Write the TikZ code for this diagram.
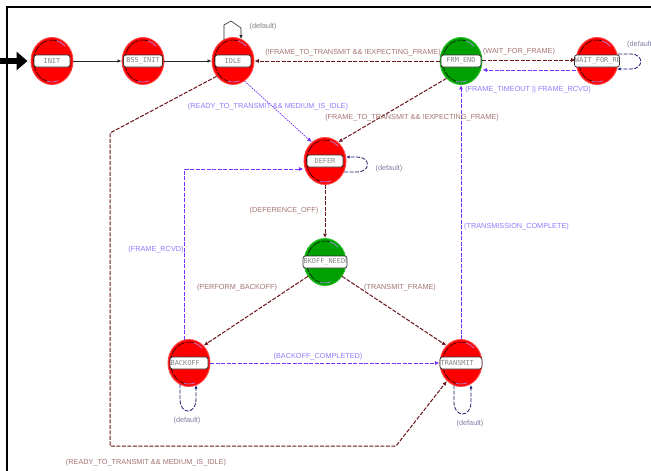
\documentclass[tikz,border=0pt]{standalone}
\usepackage{fontspec}
\setmainfont{Liberation Sans}
\newfontfamily\statefont{DejaVu Sans Mono}
\usetikzlibrary{shapes.geometric,arrows.meta,calc}
\definecolor{brn}{RGB}{105,20,25}
\definecolor{brnlbl}{RGB}{165,115,115}
\definecolor{pur}{RGB}{115,50,255}
\definecolor{purlbl}{RGB}{150,120,255}
\definecolor{nvy}{RGB}{30,30,110}
\definecolor{deflbl}{RGB}{125,125,165}
\definecolor{lav}{RGB}{170,150,255}
\definecolor{stred}{RGB}{255,0,0}
\definecolor{stredb}{RGB}{255,70,70}
\definecolor{stgrn}{RGB}{0,160,0}
\definecolor{stgrnb}{RGB}{40,190,40}
\definecolor{boxtxt}{RGB}{135,135,135}
\newcommand\drawstate[6]{%
  \node[#3] (#1) at (#2) {};
  \draw[innerring] ($(#1.center)+(75:18.5pt and 21pt)$) arc[start angle=75, end angle=265, x radius=18.5pt, y radius=21pt];
  \draw[lavring] ($(#1.center)+(255:18.5pt and 21pt)$) arc[start angle=255, end angle=290, x radius=18.5pt, y radius=21pt];
  \draw[lavring] ($(#1.center)+(45:18.5pt and 21pt)$) arc[start angle=45, end angle=75, x radius=18.5pt, y radius=21pt];
  \node[lblbox, minimum width=#5pt] (#1L) at (#1.center) {};
  \begin{scope}
    \clip ([xshift=0.8pt]#1L.south west) rectangle ([xshift=-0.8pt]#1L.north east);
    \node[stext, anchor=#6] (#1T) at (#1L.#6) {#4};
  \end{scope}
}
\begin{document}
\begin{tikzpicture}[x=1pt,y=-1pt,
  redstate/.style={ellipse, minimum width=42pt, minimum height=47pt, inner sep=0pt, fill=stred, draw=stredb, line width=0.9pt},
  grnstate/.style={ellipse, minimum width=42pt, minimum height=47pt, inner sep=0pt, fill=stgrn, draw=stgrnb, line width=0.9pt},
  innerring/.style={draw=black, line width=0.5pt, dash pattern=on 8pt off 1.5pt},
  lavring/.style={draw=lav, line width=0.6pt},
  lblbox/.style={rectangle, rounded corners=2.5pt, fill=white, draw=black!80, line width=0.7pt, minimum height=12pt, inner sep=0pt},
  stext/.style={text=boxtxt, font=\statefont\fontsize{6.9}{7}\selectfont, inner sep=0.8pt},
  elbl/.style={font=\fontsize{7.3}{8}\selectfont, inner sep=0pt},
  bedge/.style={draw=brn, line width=1pt, dash pattern=on 4pt off 1.5pt, -{Latex[length=4.5pt,width=4pt]}},
  pedge/.style={draw=pur, line width=0.95pt, dash pattern=on 4pt off 1.5pt, -{Latex[length=4.5pt,width=4pt]}},
  pdot/.style={draw=pur, line width=0.7pt, dash pattern=on 1.5pt off 1pt, -{Latex[length=4.5pt,width=4pt]}},
  nloop/.style={draw=nvy, line width=0.8pt, dash pattern=on 4pt off 1.5pt, -{Latex[length=3.5pt,width=3pt]}},
  sedge/.style={draw=black!85, line width=0.7pt, -{Latex[length=4pt,width=3.5pt]}}
]
\useasboundingbox (0,0) rectangle (651,471);
\fill[white] (0,0) rectangle (651,471);
% frame lines
\coordinate (ftl) at (7,7);
\coordinate (ftr) at (651,7);
\coordinate (fbl) at (7,471);
\draw[line width=2.5pt] (ftr) -- (ftl) -- (fbl);

% states
\drawstate{init}{52,61}{redstate}{INIT}{36}{center}
\drawstate{bss}{143,61}{redstate}{BSS\_INIT}{39}{center}
\drawstate{idle}{233,61}{redstate}{IDLE}{36}{center}
\drawstate{frm}{461,61}{grnstate}{FRM\_END}{40}{center}
\drawstate{wait}{597,61}{redstate}{WAIT\_FOR\_RE}{45}{west}
\drawstate{defer}{325,161}{redstate}{DEFER}{36}{center}
\drawstate{bkoff}{325,262}{grnstate}{BKOFF\_NEEDE}{44}{west}
\drawstate{backoff}{189,363}{redstate}{BACKOFF}{38}{west}
\drawstate{transmit}{461,363}{redstate}{TRANSMIT}{42}{west}

% initial arrow
\coordinate (entry) at (0,61);
\draw[line width=6pt, -{Triangle[length=11pt,width=18pt]}, shorten >=3pt] (entry) -- (init.west);

% solid transitions
\draw[sedge] (init) -- (bss);
\draw[sedge] (bss) -- (idle);
\draw[sedge, line width=0.6pt] ($(idle.center)+(-9,-21)$) -- ($(idle.center)+(-9,-36)$) -- ($(idle.center)+(-2,-40)$) -- ($(idle.center)+(8,-33)$) -- ($(idle.center)+(8,-22)$);

% top row
\draw[bedge] (frm) -- (idle);
\draw[bedge] ([yshift=1pt]frm.east) -- ([yshift=1pt]wait.west);
\draw[pedge] ([yshift=-9pt]wait.west) -- ([yshift=-9pt]frm.east);
\draw[nloop] ($(wait.center)+(21,-7)$) -- ($(wait.center)+(34,-7)$) .. controls ($(wait.center)+(47,-7)$) and ($(wait.center)+(47,8)$) .. ($(wait.center)+(34,8)$) -- ($(wait.center)+(20,8)$);

% to defer
\draw[pdot] (idle.-60) -- (defer.125);
\draw[bedge] (frm.-130) -- (defer.55);
\draw[nloop] ($(defer.center)+(19,11)$) -- ($(defer.center)+(32,11)$) .. controls ($(defer.center)+(46,11)$) and ($(defer.center)+(46,-4)$) .. ($(defer.center)+(32,-4)$) -- ($(defer.center)+(21,-4)$);
\draw[bedge] (defer) -- (bkoff);
\draw[pedge] (backoff.100) |- ([yshift=-8pt]defer.west);

% from bkoff
\draw[bedge] (bkoff.-140) -- (backoff.50);
\draw[bedge] (bkoff.-40) -- (transmit.130);
\draw[pedge] (backoff) -- (transmit);
\draw[pedge] (transmit) -- (frm);

% self loops below
\draw[nloop] ($(backoff.center)+(-9,21)$) -- ($(backoff.center)+(-9,36)$) .. controls ($(backoff.center)+(-9,52)$) and ($(backoff.center)+(7,52)$) .. ($(backoff.center)+(7,36)$) -- ($(backoff.center)+(7,22)$);
\draw[nloop] ($(transmit.center)+(-7,22)$) -- ($(transmit.center)+(-7,39)$) .. controls ($(transmit.center)+(-7,55)$) and ($(transmit.center)+(10,55)$) .. ($(transmit.center)+(10,39)$) -- ($(transmit.center)+(10,22)$);

% long path idle -> transmit
\coordinate (p1) at (110,133);
\coordinate (p2) at (110,446);
\coordinate (p3) at (396,446);
\draw[bedge] (idle.-137) -- (p1) -- (p2) -- (p3) -- (transmit.-128);

% labels
\node[elbl, text=black!50] (l1) at (263,27) {(default)};
\node[elbl, text=brnlbl] (l2) at (353,53) {(!FRAME\_TO\_TRANSMIT \&\& !EXPECTING\_FRAME)};
\node[elbl, text=brnlbl] (l3) at (519,52) {(WAIT\_FOR\_FRAME)};
\node[elbl, text=purlbl] (l4) at (528,90) {(FRAME\_TIMEOUT || FRAME\_RCVD)};
\node[elbl, text=deflbl, anchor=west] (l5) at (627,45) {(default};
\node[elbl, text=purlbl] (l6) at (268,107) {(READY\_TO\_TRANSMIT \&\& MEDIUM\_IS\_IDLE)};
\node[elbl, text=brnlbl] (l7) at (412,118) {(FRAME\_TO\_TRANSMIT \&\& !EXPECTING\_FRAME)};
\node[elbl, text=deflbl] (l8) at (389,169) {(default)};
\node[elbl, text=brnlbl] (l9) at (284,211) {(DEFERENCE\_OFF)};
\node[elbl, text=purlbl] (l10) at (156,250) {(FRAME\_RCVD)};
\node[elbl, text=purlbl, anchor=west] (l11) at (464,227) {(TRANSMISSION\_COMPLETE)};
\node[elbl, text=brnlbl] (l12) at (237,288) {(PERFORM\_BACKOFF)};
\node[elbl, text=brnlbl] (l13) at (400,288) {(TRANSMIT\_FRAME)};
\node[elbl, text=purlbl] (l14) at (318,357) {(BACKOFF\_COMPLETED)};
\node[elbl, text=deflbl] (l15) at (187,421) {(default)};
\node[elbl, text=deflbl] (l16) at (470,424) {(default)};
\node[elbl, text=brnlbl] (l17) at (146,463) {(READY\_TO\_TRANSMIT \&\& MEDIUM\_IS\_IDLE)};
\end{tikzpicture}
\end{document}
